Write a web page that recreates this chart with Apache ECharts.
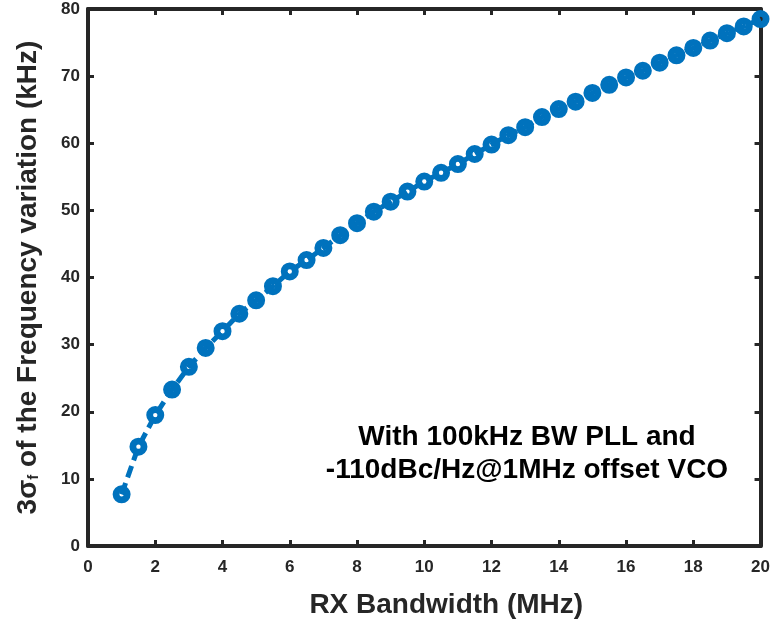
<!DOCTYPE html>
<html>
<head>
<meta charset="utf-8">
<script src="https://cdn.jsdelivr.net/npm/echarts@6/dist/echarts.min.js"></script>
<style>
html,body{margin:0;padding:0;background:#fff;}
#chart{width:773px;height:630px;}
</style>
</head>
<body>
<div id="chart"></div>
<script>
const bandwidthMHz = [1,1.5,2,2.5,3,3.5,4,4.5,5,5.5,6,6.5,7,7.5,8,8.5,9,9.5,10,10.5,11,11.5,12,12.5,13,13.5,14,14.5,15,15.5,16,16.5,17,17.5,18,18.5,19,19.5,20];
const sigmaKHz = [7.7,14.8,19.5,23.3,26.7,29.5,32.0,34.6,36.6,38.7,40.9,42.6,44.4,46.3,48.1,49.8,51.3,52.8,54.3,55.6,56.9,58.4,59.8,61.2,62.4,63.9,65.1,66.2,67.5,68.7,69.8,70.8,72.0,73.1,74.2,75.3,76.4,77.4,78.5];
const xTicks = [0,2,4,6,8,10,12,14,16,18,20];
const yTicks = [0,10,20,30,40,50,60,70,80];
const annotationLines = ['With 100kHz BW PLL and', '-110dBc/Hz@1MHz offset VCO'];

const FONT = "'Liberation Sans', Arial, Helvetica, sans-serif";
const AX = '#262626';
const BLUE = '#0072BD';
const RING = 'path://M0,-9A9,9,0,1,1,0,9A9,9,0,1,1,0,-9ZM0,-2.2A2.2,2.2,0,1,0,0,2.2A2.2,2.2,0,1,0,0,-2.2Z';

const chart = echarts.init(document.getElementById('chart'));
const points = bandwidthMHz.map((x, i) => [x, sigmaKHz[i]]);

const frameLine = () => ({show: true, onZero: false, lineStyle: {color: AX, width: 4}});
const tickIn = () => ({show: true, inside: true, length: 6, lineStyle: {color: AX, width: 3}});
const tickLabel = {color: AX, fontFamily: FONT, fontWeight: 'bold', fontSize: 17};

chart.setOption({
  animation: false,
  backgroundColor: '#fff',
  grid: {left: 88, right: 10, top: 9, bottom: 84},
  xAxis: [{
    type: 'value', min: xTicks[0], max: xTicks[xTicks.length-1], interval: 2,
    axisLine: frameLine(), axisTick: tickIn(), splitLine: {show: false},
    axisLabel: Object.assign({margin: 13}, tickLabel),
    name: 'RX Bandwidth (MHz)', nameLocation: 'middle', nameGap: 45,
    nameTextStyle: {color: AX, fontFamily: FONT, fontWeight: 'bold', fontSize: 28, padding: [0, 0, 0, 44]}
  }, {
    type: 'value', position: 'top', min: xTicks[0], max: xTicks[xTicks.length-1], interval: 2,
    axisLine: frameLine(), axisTick: tickIn(), axisLabel: {show: false}, splitLine: {show: false}
  }],
  yAxis: [{
    type: 'value', min: yTicks[0], max: yTicks[yTicks.length-1], interval: 10,
    axisLine: frameLine(), axisTick: tickIn(), splitLine: {show: false},
    axisLabel: Object.assign({margin: 8}, tickLabel),
    name: '3σ{sub|f} of the Frequency variation (kHz)', nameLocation: 'middle', nameGap: 46,
    nameTextStyle: {color: AX, fontFamily: FONT, fontWeight: 'bold', fontSize: 28,
      rich: {sub: {color: AX, fontFamily: FONT, fontWeight: 'bold', fontSize: 15, padding: [12, 0, 0, 0]}}}
  }, {
    type: 'value', position: 'right', min: yTicks[0], max: yTicks[yTicks.length-1], interval: 10,
    axisLine: frameLine(), axisTick: tickIn(), axisLabel: {show: false}, splitLine: {show: false}
  }],
  series: [{
    type: 'line', data: points, xAxisIndex: 0, yAxisIndex: 0,
    symbol: RING, symbolSize: 18, showAllSymbol: true,
    lineStyle: {color: BLUE, width: 5, type: [12, 6]},
    itemStyle: {color: BLUE, borderWidth: 0, opacity: 1},
    z: 3
  }],
  graphic: annotationLines.map((t, i) => ({
    type: 'text', x: 527, y: 437 + i * 33,
    style: {text: t, fill: '#000', font: "bold 28px " + FONT, textAlign: 'center', textVerticalAlign: 'middle'}
  }))
});
</script>
</body>
</html>
